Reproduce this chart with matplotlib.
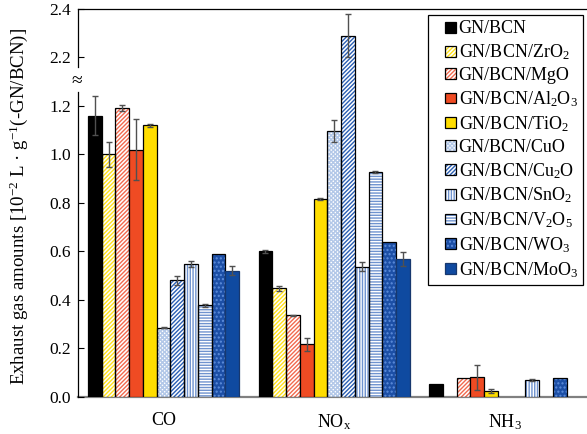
import numpy as np
import matplotlib
matplotlib.use("Agg")
import matplotlib.pyplot as plt
from matplotlib.legend_handler import HandlerTuple, HandlerPatch, update_from_first_child
from matplotlib.container import BarContainer
from matplotlib.patches import Rectangle

plt.rcParams['font.family'] = ['Liberation Serif', 'DejaVu Serif']
plt.rcParams['mathtext.fontset'] = 'custom'
plt.rcParams['mathtext.rm'] = 'Liberation Serif'
plt.rcParams['mathtext.it'] = 'Liberation Serif:italic'
plt.rcParams['mathtext.bf'] = 'Liberation Serif:bold'
plt.rcParams['hatch.linewidth'] = 1.0

# ---------------- data ----------------
categories = ['CO', 'NO$_{\\mathrm{x}}$', 'NH$_3$']
series = ['GN/BCN', 'GN/BCN/ZrO$_2$', 'GN/BCN/MgO', 'GN/BCN/Al$_2$O$_3$',
          'GN/BCN/TiO$_2$', 'GN/BCN/CuO', 'GN/BCN/Cu$_2$O', 'GN/BCN/SnO$_2$',
          'GN/BCN/V$_2$O$_5$', 'GN/BCN/WO$_3$', 'GN/BCN/MoO$_3$']

co_vals = [1.16, 1.00, 1.19, 1.02, 1.12, 0.285, 0.48, 0.548, 0.377, 0.59, 0.52]
co_err = [0.08, 0.05, 0.012, 0.127, 0.005, 0.003, 0.02, 0.012, 0.005, 0.0, 0.018]
nox_vals = [0.60, 0.447, 0.336, 0.216, 0.818, 1.096, 2.29, 0.537, 0.926, 0.637, 0.57]
nox_err = [0.006, 0.012, 0.003, 0.027, 0.004, 0.045, 0.09, 0.02, 0.004, 0.0, 0.029]
nh3_vals = [0.051, 0.0, 0.079, 0.08, 0.025, 0.0, 0.0, 0.069, 0.0, 0.076, 0.0]
nh3_err = [0.0, 0.0, 0.0, 0.05, 0.008, 0.0, 0.0, 0.003, 0.0, 0.0, 0.0]

ytick_vals = [0.0, 0.2, 0.4, 0.6, 0.8, 1.0, 1.2, 2.2, 2.4]

# ---------------- styles ----------------
# (facecolor, hatch, hatchcolor, outline color)
styles = [
    ('#000000', None, None, '#000000'),
    ('#ffffff', '////////', '#ffe11a', '#000000'),
    ('#ffffff', '////////', '#f26a4f', '#000000'),
    ('#ef4b23', None, None, '#000000'),
    ('#ffdd00', None, None, '#000000'),
    ('#ffffff', 'xxxxxxxx', '#b3c8e8', '#000000'),
    ('#ffffff', '////////', '#2b5fb4', '#000000'),
    ('#ffffff', '||||||', '#6f93cf', '#000000'),
    ('#ffffff', '------', '#6f93cf', '#000000'),
    ('#1c4fa6', '....', '#5d8ddb', '#000000'),
    ('#0f4aa0', None, None, '#17386e'),
]

# ---------------- broken axis scale ----------------
A, B, D = 1.28, 2.12, 0.04


def fwd(v):
    v = np.asarray(v, dtype=float)
    return np.where(v <= A, v,
                    np.where(v < B, A + (v - A) * D / (B - A), v - (B - A) + D))


def inv(d):
    d = np.asarray(d, dtype=float)
    return np.where(d <= A, d,
                    np.where(d < A + D, A + (d - A) * (B - A) / D, d + (B - A) - D))


fig = plt.figure(figsize=(5.87, 4.34), dpi=100)
W, H = 587, 434
left, right, top, bottom = 78.3, 590.0, 9.0, 396.8
ax = fig.add_axes([left / W, 1 - bottom / H, (right - left) / W, (bottom - top) / H])
ax.set_yscale('function', functions=(fwd, inv))

vals = np.array([co_vals, nox_vals, nh3_vals])
errs = np.array([co_err, nox_err, nh3_err])
x = np.arange(len(categories))
n = len(series)
w = 13.7 / 170.0

handles = []
for i in range(n):
    fc, hatch, hc, ec = styles[i]
    pos = x + (i - (n - 1) / 2) * w
    h = vals[:, i]
    lw = np.where(h > 0, 0.9, 0.0)
    if hatch is not None:
        b1 = ax.bar(pos, h, w, color=fc, hatch=hatch, edgecolor=hc, linewidth=0, zorder=2)
        b2 = ax.bar(pos, h, w, facecolor='none', edgecolor=ec, linewidth=lw, zorder=3)
        handles.append((b1, b2))
    else:
        b1 = ax.bar(pos, h, w, color=fc, edgecolor=ec, linewidth=lw, zorder=3)
        handles.append(b1)
    e = errs[:, i]
    m = e > 0
    if m.any():
        ax.errorbar(pos[m], h[m], yerr=e[m], fmt='none', ecolor='#505050',
                    elinewidth=1.0, capsize=2.5, capthick=1.0, zorder=4)

ax.set_xlim(-0.5, 2.5)
ax.set_ylim(0, 2.4)
ax.set_xticks(x)
ax.set_xticklabels(categories, fontsize=13)
ax.tick_params(axis='x', length=0, pad=11)
ax.set_yticks(ytick_vals)
ax.set_yticklabels(['%.1f' % t for t in ytick_vals], fontsize=12.5)
ax.tick_params(axis='y', direction='in', length=4.3, width=0.8, pad=5)
ax.minorticks_off()

ax.spines['right'].set_visible(False)
ax.spines['left'].set_visible(False)
ax.spines['top'].set_color('#000000')
ax.spines['top'].set_linewidth(0.9)
ax.spines['bottom'].set_color('#808080')
ax.spines['bottom'].set_linewidth(1.6)
ax.spines['bottom'].set_zorder(1)

ytr = ax.get_yaxis_transform()
ax.plot([0, 0], [0, 1.257], transform=ytr, color='#000000', lw=0.9, clip_on=False, zorder=5)
ax.plot([0, 0], [2.16, 2.4], transform=ytr, color='#000000', lw=0.9, clip_on=False, zorder=5)
ax.text(-0.003, 1.70, '≈', transform=ytr, ha='center', va='center', fontsize=14)

ax.set_ylabel('Exhaust gas amounts [10$^{-2}$ L · g$^{-1}$(-GN/BCN)]', fontsize=13.6)
ax.yaxis.label.set_verticalalignment('center')
ax.yaxis.set_label_coords(-0.117, 0.491)

LEG_FS = 13.0


def square_patch(legend, orig_handle, xdescent, ydescent, width, height, fontsize):
    s = 0.6 * fontsize
    return Rectangle((-xdescent + width - s, -ydescent + (height - s) / 2), s, s)


leg = ax.legend(handles, series, loc='upper right',
                bbox_to_anchor=(583 / W, 1 - 15 / H), bbox_transform=fig.transFigure,
                borderaxespad=0, fontsize=LEG_FS, frameon=True, fancybox=False,
                edgecolor='#000000', framealpha=1, handlelength=1.25, handleheight=0.7,
                handletextpad=0.15, labelspacing=0.28, borderpad=0.3,
                handler_map={tuple: HandlerTuple(ndivide=1, pad=0),
                             BarContainer: HandlerPatch(patch_func=square_patch,
                                                        update_func=update_from_first_child)})
leg.get_frame().set_linewidth(0.9)

fig.savefig('out.png', dpi=100)
